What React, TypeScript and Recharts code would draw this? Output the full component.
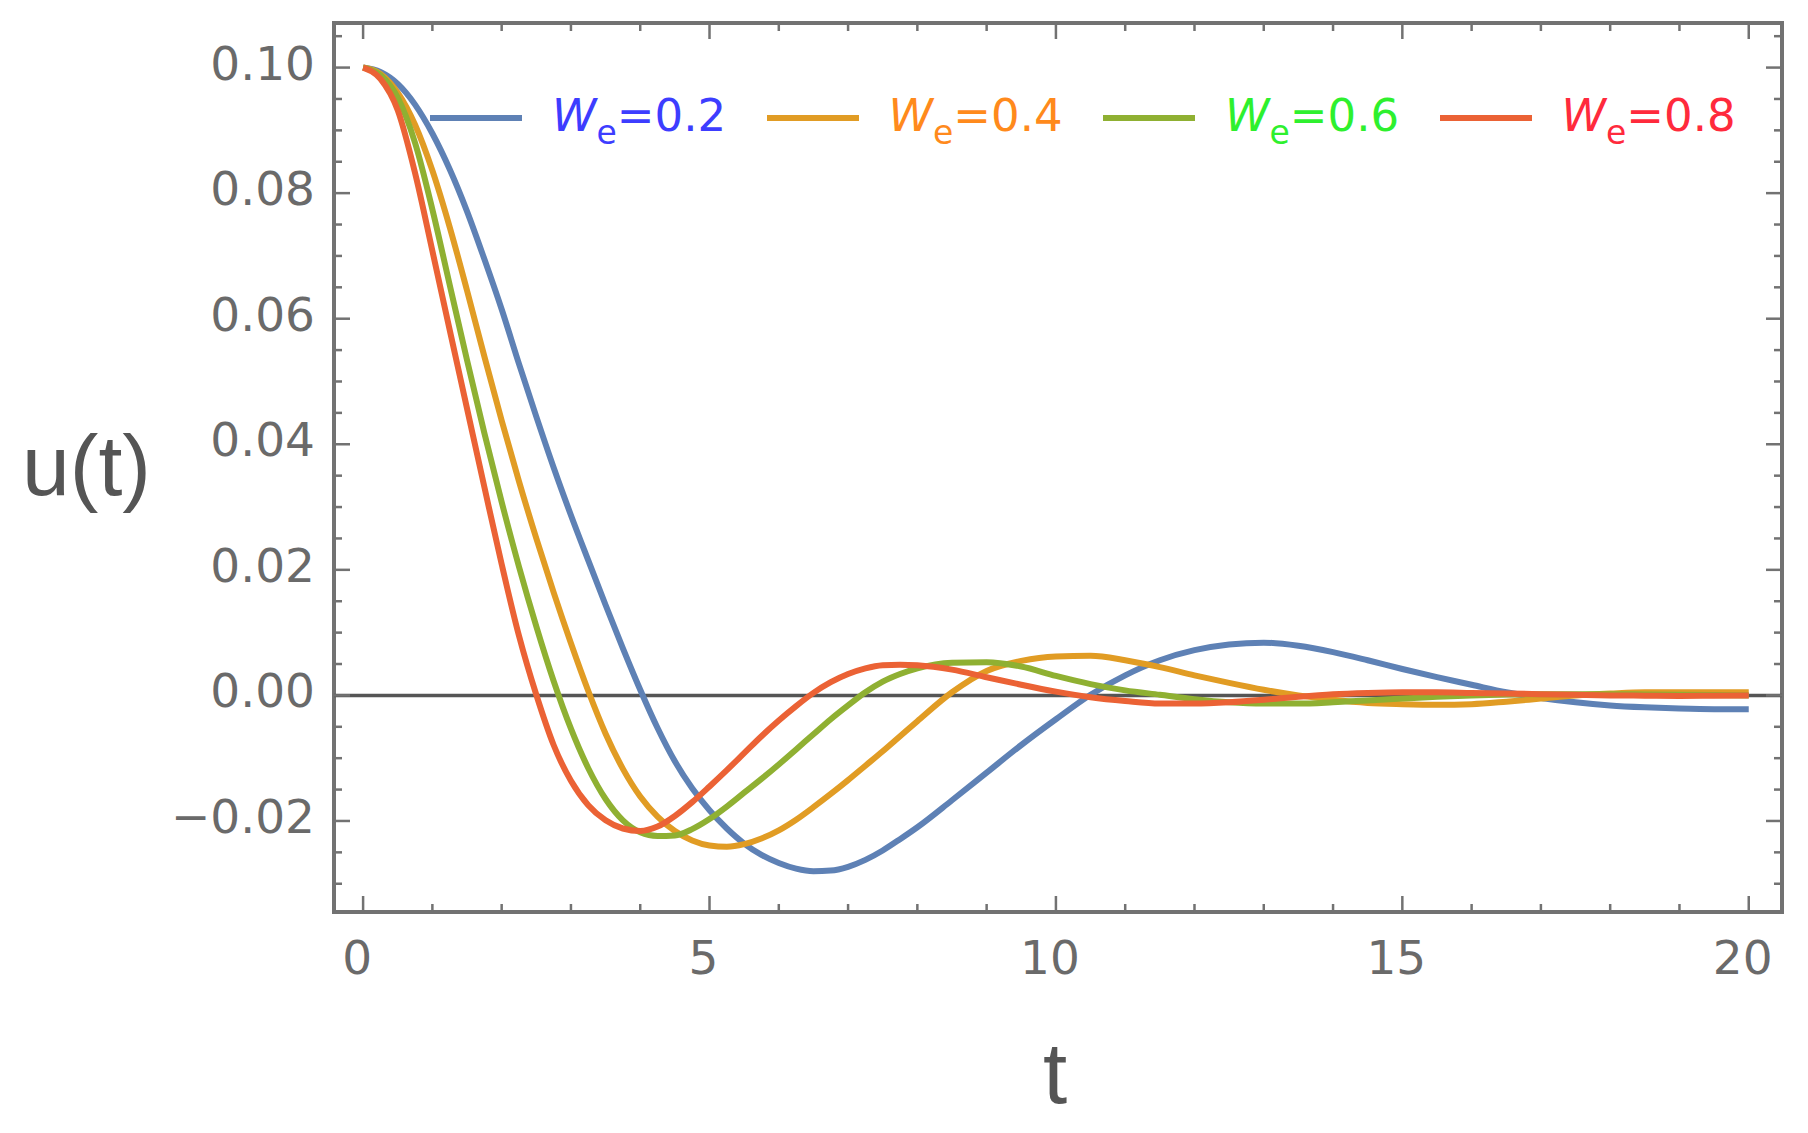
import React from 'react';
import { LineChart, Line, XAxis, YAxis, ReferenceLine, ReferenceArea, Legend, Label } from 'recharts';

// time grid (t)
const T = [
  0, 0.25, 0.5, 0.75, 1, 1.25, 1.5, 1.75, 2, 2.25, 2.5, 2.75, 3, 3.25, 3.5, 3.75, 4,
  4.25, 4.5, 4.75, 5, 5.25, 5.5, 5.75, 6, 6.25, 6.5, 6.75, 7, 7.25, 7.5, 7.75, 8,
  8.5, 9, 9.5, 10, 10.5, 11, 11.5, 12, 12.5, 13, 13.5, 14, 14.5, 15, 15.5, 16, 16.5,
  17, 17.5, 18, 18.5, 19, 19.5, 20,
];

// u(t) for We = 0.2
const U_02 = [
  0.1, 0.0993, 0.0974, 0.0941, 0.0895, 0.0838, 0.0771, 0.0695, 0.0615, 0.0528, 0.0444, 0.0363, 0.0287, 0.0215, 0.0144, 0.0075, 0.0009,
  -0.0052, -0.0105, -0.0148, -0.0183, -0.0212, -0.0236, -0.0254, -0.0267, -0.0276, -0.028, -0.0279, -0.0273, -0.0262, -0.0247, -0.0229, -0.021,
  -0.0167, -0.0123, -0.0079, -0.0038, 0.0001, 0.0032, 0.0056, 0.0072, 0.0081, 0.0084, 0.0079, 0.0069, 0.0056, 0.0042, 0.0029, 0.0017, 0.0005,
  -0.0004, -0.0011, -0.0016, -0.0019, -0.0021, -0.0022, -0.0022,
];

// u(t) for We = 0.4
const U_04 = [
  0.1, 0.099, 0.096, 0.0909, 0.0836, 0.0746, 0.0645, 0.054, 0.0438, 0.0341, 0.025, 0.0164, 0.0083, 0.0007, -0.0061, -0.0117, -0.0161,
  -0.0193, -0.0216, -0.0231, -0.0239, -0.0241, -0.0237, -0.0228, -0.0215, -0.0198, -0.0178, -0.0157, -0.0135, -0.0112, -0.0089, -0.0065, -0.0041,
  0.0005, 0.0039, 0.0055, 0.0062, 0.0063, 0.0056, 0.0045, 0.0032, 0.002, 0.0009, 0, -0.0007, -0.0012, -0.0014, -0.0015, -0.0014, -0.001,
  -0.0005, 0, 0.0003, 0.0005, 0.0005, 0.0005, 0.0005,
];

// u(t) for We = 0.6
const U_06 = [
  0.1, 0.0988, 0.0952, 0.088, 0.0774, 0.0654, 0.0534, 0.0418, 0.0308, 0.0205, 0.011, 0.0023, -0.0053, -0.0116, -0.0165, -0.0199, -0.0218,
  -0.0224, -0.0223, -0.0213, -0.0197, -0.0177, -0.0155, -0.0133, -0.011, -0.0086, -0.0062, -0.0038, -0.0016, 0.0005, 0.0022, 0.0034, 0.0043,
  0.0052, 0.0053, 0.0046, 0.0031, 0.0018, 0.0008, 0.0001, -0.0006, -0.0011, -0.0013, -0.0013, -0.0011, -0.0008, -0.0005, -0.0002, 0, 0.00015,
  0.0002, 0.0002, 0.0002, 0.00015, 0.0001, 0.00005, 0,
];

// u(t) for We = 0.8
const U_08 = [
  0.1, 0.0982, 0.0932, 0.0832, 0.0708, 0.0582, 0.0457, 0.0332, 0.0209, 0.0095, 0.0001, -0.0079, -0.0136, -0.0175, -0.0199, -0.0212, -0.0216,
  -0.0209, -0.0192, -0.017, -0.0145, -0.0119, -0.0092, -0.0065, -0.004, -0.0017, 0.0004, 0.0021, 0.0034, 0.0043, 0.0048, 0.0049, 0.0048,
  0.0041, 0.0029, 0.0017, 0.0006, -0.0003, -0.0009, -0.0013, -0.0013, -0.0011, -0.0007, -0.0002, 0.0002, 0.0004, 0.0005, 0.0005, 0.0004, 0.0003,
  0.0002, 0.0001, 0, -0.00005, -0.0001, -0.00005, 0,
];

const SERIES_KEYS = ['we02', 'we04', 'we06', 'we08'];
const SERIES_LABELS = ['0.2', '0.4', '0.6', '0.8'];
const LINE_COLORS = ['#5E81B5', '#E19C24', '#8FB032', '#EB6235'];
const TEXT_COLORS = ['#3d3dff', '#ff8a1c', '#2ef02e', '#ff2a3c'];
const SERIES_VALUES = [U_02, U_04, U_06, U_08];

const X_TICKS = [0, 1, 2, 3, 4, 5, 6, 7, 8, 9, 10, 11, 12, 13, 14, 15, 16, 17, 18, 19, 20];
const X_MAJOR = [0, 5, 10, 15, 20];
const X_LABELS = ['0', '5', '10', '15', '20'];

const Y_TICKS = [
  -0.03, -0.025, -0.02, -0.015, -0.01, -0.005, 0, 0.005, 0.01, 0.015, 0.02, 0.025, 0.03, 0.035,
  0.04, 0.045, 0.05, 0.055, 0.06, 0.065, 0.07, 0.075, 0.08, 0.085, 0.09, 0.095, 0.1, 0.105,
];
const Y_MAJOR = [-0.02, 0, 0.02, 0.04, 0.06, 0.08, 0.1];
const Y_LABELS = ['\u22120.02', '0.00', '0.02', '0.04', '0.06', '0.08', '0.10'];

const X_DOMAIN: [number, number] = [-0.42, 20.48];
const Y_DOMAIN: [number, number] = [-0.0345, 0.1071];

const data = T.map((t, i) => {
  const row: Record<string, number> = { t };
  SERIES_KEYS.forEach((k, j) => {
    row[k] = SERIES_VALUES[j][i];
  });
  return row;
});

const W = 1808;
const H = 1133;
const PLOT = { left: 334, top: 23, right: 1782, bottom: 912 };
const FRAME = '#727272';
const TICK_TEXT = '#6a6a6a';
const NUM_FONT = '"DejaVu Sans", sans-serif';
const LABEL_FONT = '"Liberation Sans", Arial, sans-serif';

const XTick = (props: any) => {
  const { x, payload } = props;
  const idx = X_MAJOR.indexOf(payload.value);
  const len = idx >= 0 ? 16 : 8;
  return (
    <g>
      <line x1={x} y1={PLOT.bottom} x2={x} y2={PLOT.bottom - len} stroke={FRAME} strokeWidth={2.5} />
      <line x1={x} y1={PLOT.top} x2={x} y2={PLOT.top + len} stroke={FRAME} strokeWidth={2.5} />
      {idx >= 0 && (
        <text x={x - 6} y={974} textAnchor="middle" fill={TICK_TEXT} fontSize={47} fontFamily={NUM_FONT}>
          {X_LABELS[idx]}
        </text>
      )}
    </g>
  );
};

const YTick = (props: any) => {
  const { y, payload } = props;
  const idx = Y_MAJOR.findIndex((m) => Math.abs(m - payload.value) < 1e-9);
  const len = idx >= 0 ? 16 : 8;
  return (
    <g>
      <line x1={PLOT.left} y1={y} x2={PLOT.left + len} y2={y} stroke={FRAME} strokeWidth={2.5} />
      <line x1={PLOT.right} y1={y} x2={PLOT.right - len} y2={y} stroke={FRAME} strokeWidth={2.5} />
      {idx >= 0 && (
        <text x={315} y={y + 12} textAnchor="end" fill={TICK_TEXT} fontSize={47} fontFamily={NUM_FONT}>
          {Y_LABELS[idx]}
        </text>
      )}
    </g>
  );
};

const renderLegend = () => (
  <div style={{ display: 'flex', alignItems: 'center', height: 56 }}>
    {SERIES_LABELS.map((label, i) => (
      <div key={label} style={{ display: 'flex', alignItems: 'center', width: 336.5, height: 56 }}>
        <div style={{ width: 92, height: 6, background: LINE_COLORS[i] }} />
        <span
          style={{
            marginLeft: 30,
            color: TEXT_COLORS[i],
            fontFamily: NUM_FONT,
            fontSize: 45,
            lineHeight: '56px',
            whiteSpace: 'nowrap',
          }}
        >
          <span style={{ fontStyle: 'italic' }}>W</span>
          <span style={{ fontSize: 33, position: 'relative', top: 13 }}>e</span>
          {'=' + label}
        </span>
      </div>
    ))}
  </div>
);

export default function App() {
  return (
    <div style={{ position: 'absolute', left: 0, top: 0, width: W, height: H, background: '#fff' }}>
      <LineChart width={W} height={H} data={data} margin={{ top: PLOT.top, right: W - PLOT.right, left: 0, bottom: 0 }}>
        <XAxis
          dataKey="t"
          type="number"
          domain={X_DOMAIN}
          allowDataOverflow
          ticks={X_TICKS}
          interval={0}
          height={H - PLOT.bottom}
          axisLine={false}
          tickLine={false}
          tick={XTick}
        >
          <Label
            content={() => (
              <text x={1055} y={1103} textAnchor="middle" fill="#555" fontSize={87} fontFamily={LABEL_FONT}>
                t
              </text>
            )}
          />
        </XAxis>
        <YAxis
          type="number"
          domain={Y_DOMAIN}
          allowDataOverflow
          ticks={Y_TICKS}
          interval={0}
          width={PLOT.left}
          axisLine={false}
          tickLine={false}
          tick={YTick}
        >
          <Label
            content={() => (
              <text x={22} y={495} textAnchor="start" fill="#555" fontSize={86} fontFamily={LABEL_FONT}>
                u(t)
              </text>
            )}
          />
        </YAxis>
        <ReferenceArea
          x1={X_DOMAIN[0]}
          x2={X_DOMAIN[1]}
          y1={Y_DOMAIN[0]}
          y2={Y_DOMAIN[1]}
          fill="none"
          stroke={FRAME}
          strokeWidth={4}
          ifOverflow="visible"
        />
        <ReferenceLine y={0} stroke="#555" strokeWidth={3.5} />
        {SERIES_KEYS.map((k, i) => (
          <Line
            key={k}
            dataKey={k}
            name={'We=' + SERIES_LABELS[i]}
            type="monotone"
            stroke={LINE_COLORS[i]}
            strokeWidth={6}
            dot={false}
            isAnimationActive={false}
          />
        ))}
        <Legend
          layout="horizontal"
          verticalAlign="middle"
          align="center"
          content={renderLegend}
          wrapperStyle={{ left: 430, top: 90, width: 1346, height: 56 }}
        />
      </LineChart>
    </div>
  );
}
